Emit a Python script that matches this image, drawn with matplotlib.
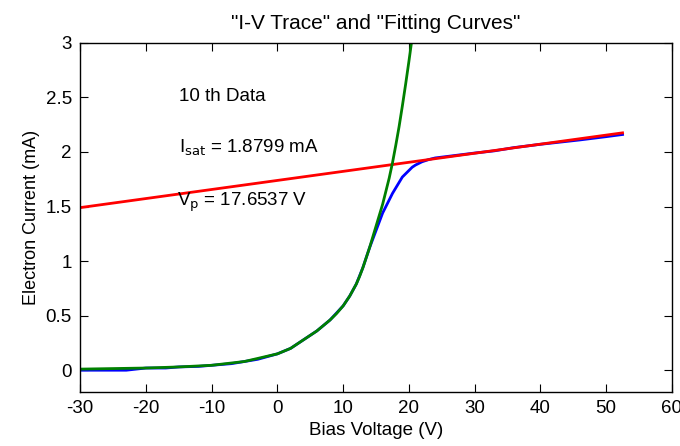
import matplotlib.pyplot as plt

plt.rcParams['font.family'] = ['Liberation Sans', 'DejaVu Sans']
plt.rcParams['axes.unicode_minus'] = False

# measured I-V trace (blue)
v_data = [-30, -27, -25, -23, -20, -17, -15, -12, -10, -7, -5, -3, 0, 2, 4, 6, 8, 10, 11, 12, 13,
          14, 14.5, 15, 15.5, 16, 16.5, 17, 17.5, 18, 18.5, 19, 19.5, 20, 20.5, 21, 22, 23, 24,
          26, 28, 30, 33, 36, 40, 43, 46, 50, 52.5]
i_data = [0.0, 0.0, 0.0, 0.0, 0.02, 0.02, 0.03, 0.035, 0.045, 0.06, 0.08, 0.1, 0.15, 0.2, 0.28,
          0.36, 0.46, 0.59, 0.68, 0.79, 0.94, 1.12, 1.2, 1.28, 1.36, 1.44, 1.5, 1.56, 1.62, 1.67,
          1.72, 1.77, 1.8, 1.83, 1.86, 1.88, 1.91, 1.93, 1.945, 1.96, 1.975, 1.99, 2.01, 2.04,
          2.07, 2.09, 2.11, 2.14, 2.16]

# saturation line fit (red)
v_sat = [-30, 52.5]
i_sat = [1.49, 2.175]

# exponential fit (green)
v_exp = [-30, -25, -20, -15, -10, -5, 0, 1, 2, 3, 4, 5, 6, 7, 8, 9, 10, 11, 12, 12.5, 13, 13.5,
         14, 14.5, 15, 15.5, 16, 16.5, 17, 17.5, 18, 18.5, 19, 19.5, 20, 20.5]
i_exp = [0.01, 0.015, 0.02, 0.03, 0.045, 0.08, 0.15, 0.175, 0.2, 0.24, 0.28, 0.32, 0.36, 0.41,
         0.46, 0.52, 0.59, 0.68, 0.79, 0.86, 0.94, 1.03, 1.12, 1.22, 1.32, 1.42, 1.52, 1.64,
         1.76, 1.9, 2.06, 2.23, 2.42, 2.62, 2.83, 3.05]

fig = plt.figure(figsize=(6.8, 4.46), dpi=100)
ax = fig.add_axes([0.118, 0.121, 0.870, 0.783])

ax.plot(v_data, i_data, color='#0000ff', lw=2)
ax.plot(v_sat, i_sat, color='#ff0000', lw=2)
ax.plot(v_exp, i_exp, color='#008000', lw=2)

ax.set_xlim(-30, 60)
ax.set_ylim(-0.2, 3)
ax.set_xticks(range(-30, 61, 10))
ax.set_yticks([0, 0.5, 1, 1.5, 2, 2.5, 3])
ax.set_yticklabels(['0', '0.5', '1', '1.5', '2', '2.5', '3'])
ax.tick_params(direction='in', top=True, right=True, length=6, labelsize=13.5, pad=6)
for s in ax.spines.values():
    s.set_linewidth(1)

ax.text(-15, 2.51, '10 th Data', fontsize=13.5, va='center')
ax.text(-15, 2.04, r'I$_{\mathrm{sat}}$ = 1.8799 mA', fontsize=13.5, va='center')
ax.text(-15.3, 1.54, r'V$_{\mathrm{p}}$ = 17.6537 V', fontsize=13.5, va='center')

ax.set_title('"I-V Trace" and "Fitting Curves"', fontsize=15, pad=10)
ax.set_xlabel('Bias Voltage (V)', fontsize=13.5, labelpad=3)
ax.set_ylabel('Electron Current (mA)', fontsize=13, labelpad=4)

fig.savefig('out.png', dpi=100)
